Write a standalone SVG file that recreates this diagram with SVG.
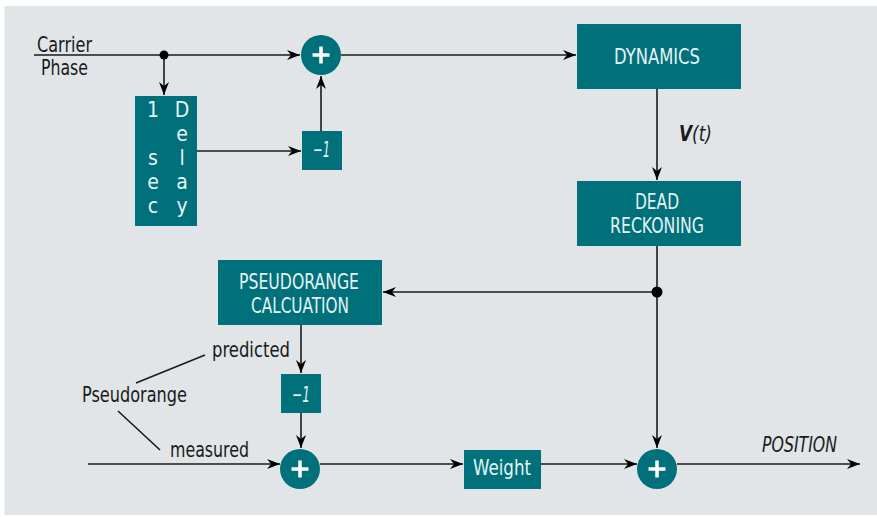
<svg xmlns="http://www.w3.org/2000/svg" width="877" height="517" viewBox="0 0 877 517">
<style>
.box{fill:#00707a}
.sum{fill:#00707a}
.plus{stroke:#ffffff;stroke-width:3.5;fill:none}
.bt{fill:#e6f3f4;font-family:"DejaVu Sans Condensed","DejaVu Sans","Liberation Sans",sans-serif;font-stretch:condensed;font-size:21px}
.lt{fill:#1a1a1a;font-family:"DejaVu Sans Condensed","DejaVu Sans","Liberation Sans",sans-serif;font-stretch:condensed;font-size:21px}
.it{font-style:italic}
.ln{stroke:#1a1a1a;stroke-width:1.6;fill:none}
.dot{fill:#000}
</style>
<defs>
<marker id="ah" markerUnits="userSpaceOnUse" markerWidth="14" markerHeight="10" refX="13" refY="5" orient="auto">
<path d="M0,0 L13,5 L0,10 L4,5 z" fill="#000"/>
</marker>
</defs>
<rect x="4.5" y="6" width="873" height="509" fill="#e1e5e8"/>

<g id="connectors">
<line class="ln" x1="34" y1="55" x2="300" y2="55" marker-end="url(#ah)"/>
<line class="ln" x1="164" y1="55" x2="164" y2="95" marker-end="url(#ah)"/>
<line class="ln" x1="197" y1="151" x2="301" y2="151" marker-end="url(#ah)"/>
<line class="ln" x1="321" y1="131" x2="321" y2="76" marker-end="url(#ah)"/>
<line class="ln" x1="341" y1="55" x2="576" y2="55" marker-end="url(#ah)"/>
<line class="ln" x1="657" y1="89" x2="657" y2="180" marker-end="url(#ah)"/>
<line class="ln" x1="657" y1="246" x2="657" y2="448" marker-end="url(#ah)"/>
<line class="ln" x1="657" y1="292" x2="383" y2="292" marker-end="url(#ah)"/>
<line class="ln" x1="301" y1="325" x2="301" y2="373" marker-end="url(#ah)"/>
<line class="ln" x1="301" y1="413" x2="301" y2="448" marker-end="url(#ah)"/>
<line class="ln" x1="88" y1="464" x2="280" y2="464" marker-end="url(#ah)"/>
<line class="ln" x1="320" y1="464" x2="463" y2="464" marker-end="url(#ah)"/>
<line class="ln" x1="541" y1="464" x2="637" y2="464" marker-end="url(#ah)"/>
<line class="ln" x1="677" y1="464" x2="860" y2="464" marker-end="url(#ah)"/>
<line class="ln" x1="136" y1="383" x2="205" y2="355" stroke-width="1.3"/>
<line class="ln" x1="118" y1="411" x2="160" y2="450" stroke-width="1.3"/>
<circle class="dot" cx="164" cy="55" r="4.5"/>
<circle class="dot" cx="657" cy="292" r="5.5"/>
</g>

<g id="carrier-label">
<text class="lt" x="37" y="52" textLength="55" lengthAdjust="spacingAndGlyphs">Carrier</text>
<text class="lt" x="41" y="75" textLength="47" lengthAdjust="spacingAndGlyphs">Phase</text>
</g>

<g id="sum1">
<circle class="sum" cx="321" cy="55" r="20"/>
<path class="plus" d="M312.5,55 H329.5 M321,46.5 V63.5"/>
</g>

<g id="delay">
<rect class="box" x="135" y="96" width="62" height="130"/>
<g class="bt" text-anchor="middle">
<text x="153" y="117">1</text>
<text x="153" y="165">s</text>
<text x="153" y="189">e</text>
<text x="153" y="213">c</text>
<text x="182" y="117">D</text>
<text x="182" y="141">e</text>
<text x="182" y="165">l</text>
<text x="182" y="189">a</text>
<text x="182" y="213">y</text>
</g>
</g>

<g id="neg1-top">
<rect class="box" x="302" y="131" width="40" height="39"/>
<text class="bt it" x="313" y="157" textLength="17" lengthAdjust="spacingAndGlyphs">−1</text>
</g>

<g id="dynamics">
<rect class="box" x="577" y="24" width="164" height="65"/>
<text class="bt" x="614" y="64" textLength="86" lengthAdjust="spacingAndGlyphs">DYNAMICS</text>
</g>

<g id="vt-label">
<text class="lt" x="679" y="141" textLength="33" lengthAdjust="spacingAndGlyphs"><tspan font-weight="bold" font-style="italic">V</tspan><tspan font-style="italic">(t)</tspan></text>
</g>

<g id="dead-reckoning">
<rect class="box" x="577" y="181" width="164" height="65"/>
<text class="bt" x="635" y="209" textLength="44" lengthAdjust="spacingAndGlyphs">DEAD</text>
<text class="bt" x="610" y="233" textLength="94" lengthAdjust="spacingAndGlyphs">RECKONING</text>
</g>

<g id="pseudorange-calc">
<rect class="box" x="218" y="260" width="164" height="65"/>
<text class="bt" x="239" y="289" textLength="120" lengthAdjust="spacingAndGlyphs">PSEUDORANGE</text>
<text class="bt" x="251" y="313" textLength="98" lengthAdjust="spacingAndGlyphs">CALCUATION</text>
</g>

<g id="neg1-bottom">
<rect class="box" x="281" y="374" width="40" height="39"/>
<text class="bt it" x="292" y="402" textLength="18" lengthAdjust="spacingAndGlyphs">−1</text>
</g>

<g id="pseudorange-labels">
<text class="lt" x="212" y="357" textLength="78" lengthAdjust="spacingAndGlyphs">predicted</text>
<text class="lt" x="82" y="402" textLength="105" lengthAdjust="spacingAndGlyphs">Pseudorange</text>
<text class="lt" x="170" y="457" textLength="79" lengthAdjust="spacingAndGlyphs">measured</text>
</g>

<g id="sum2">
<circle class="sum" cx="300" cy="469" r="20"/>
<path class="plus" d="M291.5,469 H308.5 M300,460.5 V477.5"/>
</g>

<g id="weight">
<rect class="box" x="464" y="450" width="77" height="39"/>
<text class="bt" x="473" y="475" textLength="58" lengthAdjust="spacingAndGlyphs">Weight</text>
</g>

<g id="sum3">
<circle class="sum" cx="657" cy="469" r="20"/>
<path class="plus" d="M648.5,469 H665.5 M657,460.5 V477.5"/>
</g>

<g id="position-label">
<text class="lt it" x="762" y="452" textLength="75" lengthAdjust="spacingAndGlyphs">POSITION</text>
</g>
</svg>
